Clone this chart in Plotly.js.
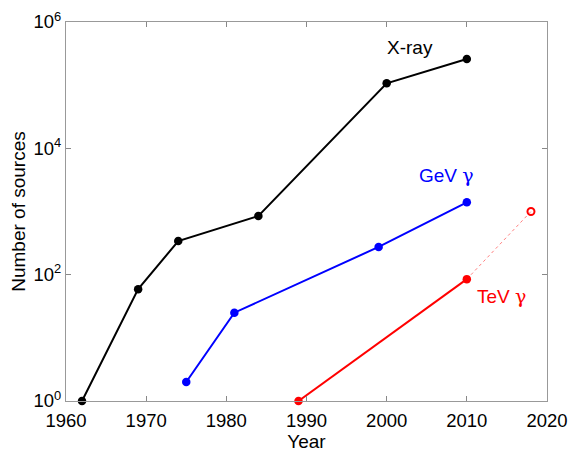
<!DOCTYPE html>
<html><head><meta charset="utf-8">
<script src="https://cdn.plot.ly/plotly-3.0.1.min.js"></script>
<style>html,body{margin:0;padding:0;background:#fff}#chart{width:571px;height:453px}</style>
</head><body><div id="chart"></div>
<script>
const xrayYears = [1962, 1969, 1974, 1984, 2000, 2010];
const xrayCounts = [1, 59, 340, 850, 107000, 260000];
const gevYears = [1975, 1981, 1999, 2010];
const gevCounts = [2, 25, 275, 1400];
const tevYears = [1989, 2010];
const tevCounts = [1, 85];
const tevProjYears = [2010, 2018];
const tevProjCounts = [85, 1000];
const yTickVals = [1, 100, 10000, 1000000];
const yTickText = ['10<sup>0</sup>', '10<sup>2</sup>', '10<sup>4</sup>', '10<sup>6</sup>'];
const xTickVals = [1960, 1970, 1980, 1990, 2000, 2010, 2020];
const gammaSpan = '<span style="font-family:DejaVu Serif">γ</span>';

const traces = [
  {x: tevProjYears, y: tevProjCounts, mode: 'lines', line: {color: '#ff8080', width: 1, dash: 'dot'}, hoverinfo: 'skip'},
  {x: [tevProjYears[1]], y: [tevProjCounts[1]], mode: 'markers', marker: {symbol: 'circle-open', color: '#ff0000', size: 7, line: {width: 2, color: '#ff0000'}}},
  {x: xrayYears, y: xrayCounts, mode: 'lines+markers', line: {color: '#000', width: 2}, marker: {color: '#000', size: 8.5}},
  {x: gevYears, y: gevCounts, mode: 'lines+markers', line: {color: '#0000ff', width: 2}, marker: {color: '#0000ff', size: 8.5}},
  {x: tevYears, y: tevCounts, mode: 'lines+markers', line: {color: '#ff0000', width: 2}, marker: {color: '#ff0000', size: 8.5}}
];
traces.forEach(t => t.cliponaxis = false);

const layout = {
  width: 571, height: 453,
  margin: {l: 66, r: 24, t: 22, b: 52},
  showlegend: false,
  paper_bgcolor: '#fff', plot_bgcolor: '#fff',
  font: {family: 'Liberation Sans, Arial, sans-serif', size: 19, color: '#000'},
  xaxis: {
    range: [1960, 2020], tickvals: xTickVals, ticks: 'inside', ticklen: 5, tickcolor: '#888',
    showline: true, linecolor: '#999', linewidth: 1, mirror: 'ticks', showgrid: false, zeroline: false,
    title: {text: 'Year', font: {size: 19}, standoff: 0}, tickfont: {size: 18.5}, ticklabelstandoff: 3
  },
  yaxis: {
    type: 'log', range: [0, 6], tickvals: yTickVals, ticktext: yTickText, ticks: 'inside', ticklen: 5, tickcolor: '#888',
    showline: true, linecolor: '#999', linewidth: 1, mirror: 'ticks', showgrid: false, zeroline: false,
    title: {text: 'Number of sources', font: {size: 19}, standoff: 2}, tickfont: {size: 18.5}
  },
  annotations: [
    {x: 2002.9, y: 5.60, xref: 'x', yref: 'y', text: 'X-ray', showarrow: false, font: {color: '#000', size: 19}, xanchor: 'center', yanchor: 'middle'},
    {x: 2007.5, y: 3.58, xref: 'x', yref: 'y', text: 'GeV ' + gammaSpan, showarrow: false, font: {color: '#0000ff', size: 19}, xanchor: 'center', yanchor: 'middle'},
    {x: 2014.3, y: 1.66, xref: 'x', yref: 'y', text: 'TeV ' + gammaSpan, showarrow: false, font: {color: '#ff0000', size: 19}, xanchor: 'center', yanchor: 'middle'}
  ]
};
Plotly.newPlot('chart', traces, layout, {displayModeBar: false, staticPlot: true});
</script></body></html>
